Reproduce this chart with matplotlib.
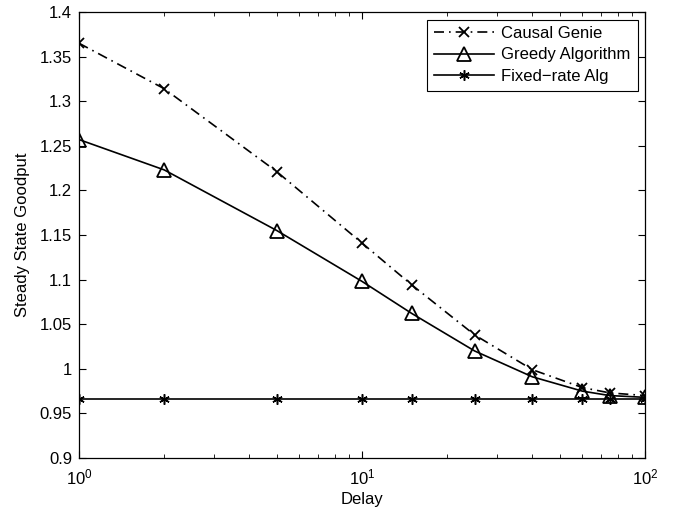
import matplotlib
matplotlib.use("Agg")
import matplotlib.pyplot as plt
from matplotlib.ticker import FixedLocator, FuncFormatter, LogLocator, NullFormatter

plt.rcParams['font.family'] = ['Liberation Sans', 'DejaVu Sans']
plt.rcParams['mathtext.fontset'] = 'custom'
plt.rcParams['mathtext.rm'] = 'Liberation Sans'
plt.rcParams['mathtext.it'] = 'Liberation Sans'

delay = [1, 2, 5, 10, 15, 25, 40, 60, 75, 100]
causal_genie = [1.365, 1.314, 1.221, 1.141, 1.094, 1.038, 0.999, 0.979, 0.973, 0.970]
greedy = [1.257, 1.223, 1.155, 1.098, 1.062, 1.020, 0.991, 0.975, 0.970, 0.968]
fixed_rate = [0.966] * len(delay)
y_ticks = [0.9, 0.95, 1.0, 1.05, 1.1, 1.15, 1.2, 1.25, 1.3, 1.35, 1.4]

FS = 12

fig = plt.figure(figsize=(6.84, 5.15), dpi=100)
ax = fig.add_axes([79/684, 1-458/515, (645-79)/684, (458-12)/515])

ax.plot(delay, causal_genie, color='black', lw=1.2, dashes=(6, 3, 1, 3),
        marker='x', ms=6.5, mew=1.3, label='Causal Genie')
ax.plot(delay, greedy, color='black', lw=1.2, marker='^', ms=10, mew=1.3,
        mfc='none', label='Greedy Algorithm')
ax.plot(delay, fixed_rate, color='black', lw=1.2, marker=(6, 2, 0), ms=7.5, mew=1.1,
        label='Fixed\u2212rate Alg')

ax.set_xscale('log')
ax.set_xlim(1, 100)
ax.set_ylim(0.9, 1.4)
ax.yaxis.set_major_locator(FixedLocator(y_ticks))
ax.yaxis.set_major_formatter(FuncFormatter(lambda v, p: ('%g' % round(v, 4))))
ax.xaxis.set_minor_locator(LogLocator(base=10, subs=range(2, 10)))
ax.xaxis.set_minor_formatter(NullFormatter())

ax.tick_params(which='both', direction='in', top=True, right=True, labelsize=FS)
ax.tick_params(which='major', length=5, width=0.8)
ax.tick_params(which='minor', length=3, width=0.6)
ax.tick_params(axis='x', which='major', pad=7)
ax.tick_params(axis='y', which='major', pad=5)
for s in ax.spines.values():
    s.set_linewidth(0.9)

ax.set_xlabel('Delay', fontsize=FS, labelpad=3)
ax.set_ylabel('Steady State Goodput', fontsize=FS, labelpad=7)

leg = ax.legend(loc='upper right', fontsize=FS, frameon=True, fancybox=False,
                edgecolor='black', framealpha=1, handlelength=3.6,
                borderaxespad=0.45, labelspacing=0.38, borderpad=0.4, handletextpad=0.45)
leg.get_frame().set_linewidth(0.8)

fig.savefig('out.png', dpi=100)
